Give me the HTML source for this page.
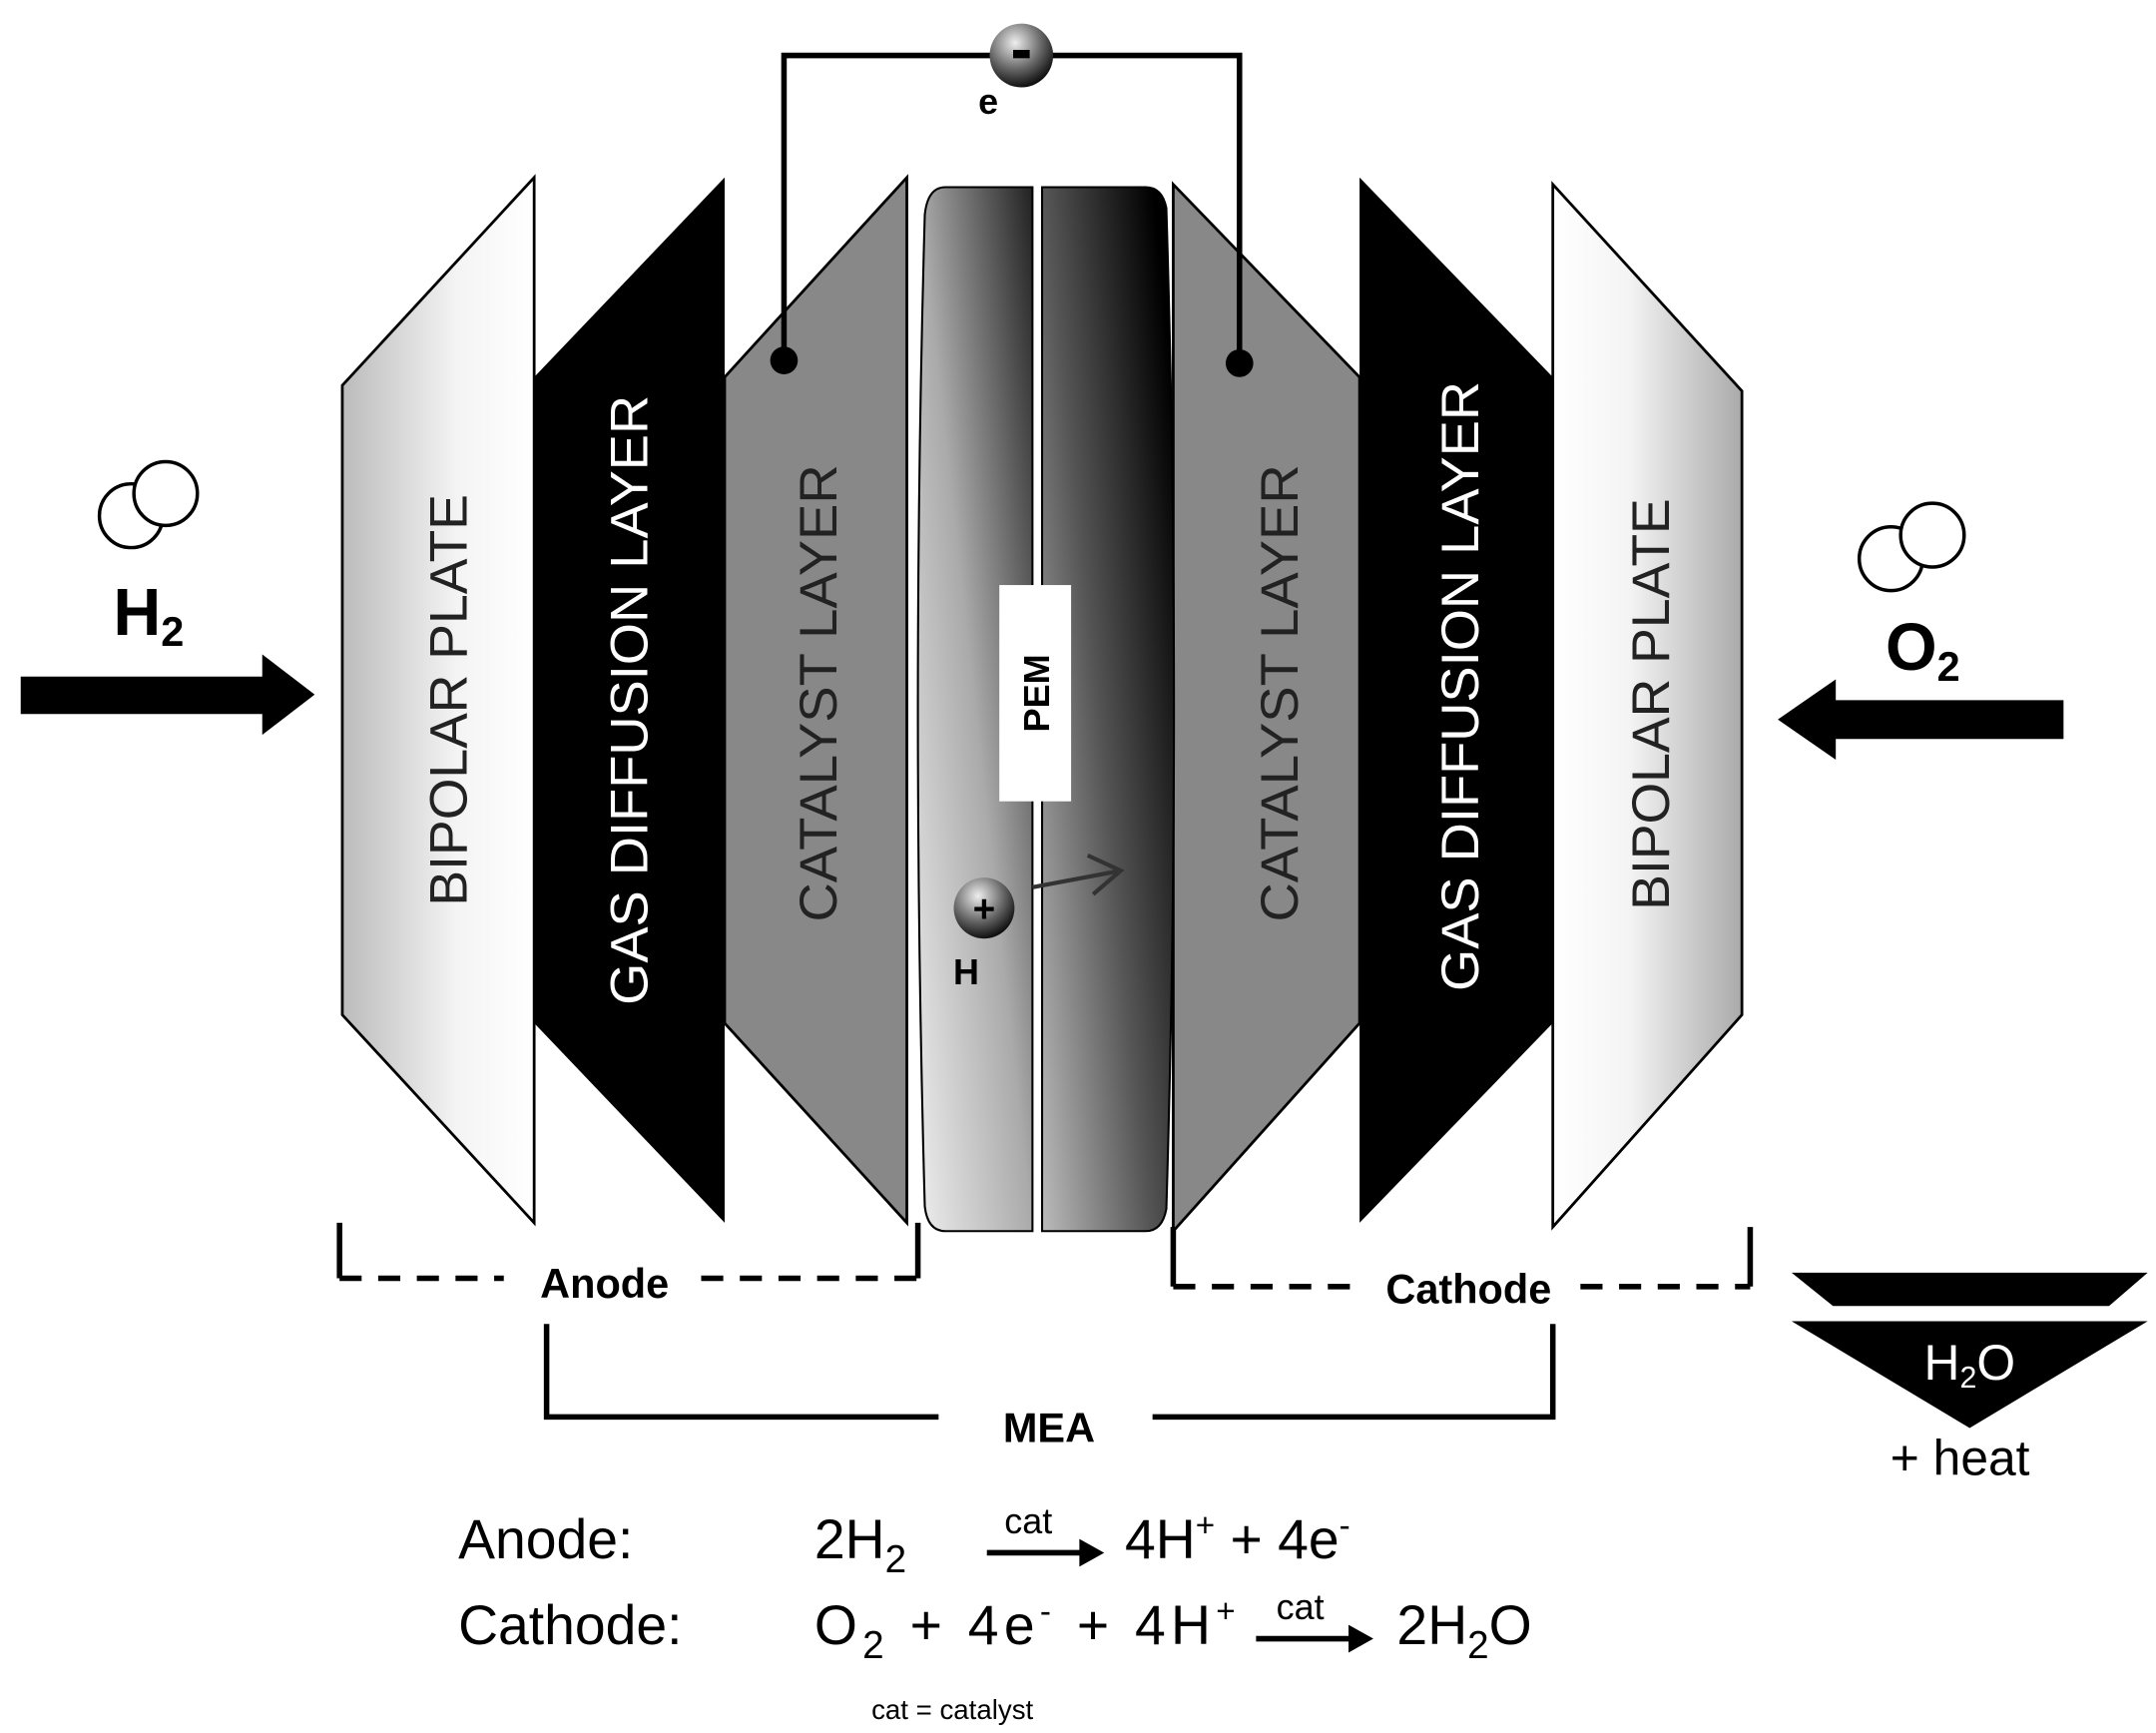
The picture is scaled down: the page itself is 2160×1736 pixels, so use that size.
<!DOCTYPE html>
<html><head><meta charset="utf-8"><style>
html,body{margin:0;padding:0;background:#fff;}
svg{display:block;}
text{font-family:"Liberation Sans Narrow","Liberation Sans",sans-serif;}
</style></head><body>
<svg width="2160" height="1736" viewBox="0 0 1562 1250" preserveAspectRatio="none" xmlns="http://www.w3.org/2000/svg">
<defs>
<linearGradient id="bp" x1="0" x2="1" y1="0" y2="0"><stop offset="0" stop-color="#bbb"/><stop offset="0.6" stop-color="#f4f4f4"/><stop offset="1" stop-color="#fff"/></linearGradient>
<linearGradient id="bp2" x1="0" x2="1" y1="0" y2="0"><stop offset="0" stop-color="#fff"/><stop offset="0.4" stop-color="#f4f4f4"/><stop offset="1" stop-color="#aaa"/></linearGradient>
<linearGradient id="pl" x1="0" y1="1" x2="1" y2="0"><stop offset="0" stop-color="#eee"/><stop offset="0.5" stop-color="#aaa"/><stop offset="1" stop-color="#222"/></linearGradient>
<linearGradient id="pr" x1="0" y1="1" x2="1" y2="0.2"><stop offset="0" stop-color="#bbb"/><stop offset="0.5" stop-color="#555"/><stop offset="1" stop-color="#000"/></linearGradient>
<radialGradient id="ball" cx="0.4" cy="0.3" r="0.7"><stop offset="0" stop-color="#eee"/><stop offset="0.6" stop-color="#666"/><stop offset="1" stop-color="#111"/></radialGradient>
</defs>
<polygon points="248,278 387,128 387,882 248,732" fill="url(#bp)" stroke="#000" stroke-width="2"/>
<polygon points="387,272 525,128 525,882 387,738" fill="#000"/>
<polygon points="525,272 657,128 657,882 525,738" fill="#888" stroke="#000" stroke-width="2"/>
<polygon points="850,133 985,272 985,738 850,888" fill="#888" stroke="#000" stroke-width="2"/>
<polygon points="985,128 1125,272 1125,738 985,882" fill="#000"/>
<polygon points="1125,133 1262,282 1262,732 1125,885" fill="url(#bp2)" stroke="#000" stroke-width="2"/>
<path d="M685,135 L748,135 L748,888 L685,888 Q672,888 670,870 Q660,510 670,155 Q672,135 685,135Z" fill="url(#pl)" stroke="#000" stroke-width="1.5"/>
<path d="M755,135 L830,135 Q842,135 845,150 Q856,510 845,872 Q842,888 830,888 L755,888Z" fill="url(#pr)" stroke="#000" stroke-width="1.5"/>
<rect x="724" y="422" width="52" height="156" fill="#fff"/>
<text x="0" y="0" transform="translate(760,500) rotate(-90)" font-size="26" font-weight="bold" text-anchor="middle">PEM</text>
<circle cx="713" cy="655" r="22" fill="url(#ball)"/>
<text x="713" y="665" font-size="28" font-weight="bold" text-anchor="middle" fill="#000">+</text>
<text x="700" y="710" font-size="26" font-weight="bold" text-anchor="middle">H</text>
<line x1="748" y1="640" x2="812" y2="628" stroke="#333" stroke-width="3"/>
<polyline points="788,617 812,628 792,645" fill="none" stroke="#333" stroke-width="3"/>
<g font-size="38">
<text transform="translate(338,505) rotate(-90)" text-anchor="middle" fill="#222" textLength="297" lengthAdjust="spacingAndGlyphs">BIPOLAR PLATE</text>
<text transform="translate(469,505) rotate(-90)" text-anchor="middle" fill="#fff" textLength="440" lengthAdjust="spacingAndGlyphs">GAS DIFFUSION LAYER</text>
<text transform="translate(606,500) rotate(-90)" text-anchor="middle" fill="#222" textLength="330" lengthAdjust="spacingAndGlyphs">CATALYST LAYER</text>
<text transform="translate(940,500) rotate(-90)" text-anchor="middle" fill="#222" textLength="330" lengthAdjust="spacingAndGlyphs">CATALYST LAYER</text>
<text transform="translate(1071,495) rotate(-90)" text-anchor="middle" fill="#fff" textLength="440" lengthAdjust="spacingAndGlyphs">GAS DIFFUSION LAYER</text>
<text transform="translate(1209,508) rotate(-90)" text-anchor="middle" fill="#222" textLength="297" lengthAdjust="spacingAndGlyphs">BIPOLAR PLATE</text>
</g>
<polyline points="568,258 568,40 898,40 898,262" fill="none" stroke="#000" stroke-width="4"/>
<circle cx="568" cy="260" r="10" fill="#000"/>
<circle cx="898" cy="262" r="10" fill="#000"/>
<circle cx="740" cy="40" r="23" fill="url(#ball)"/>
<rect x="734" y="36" width="12" height="6" fill="#000"/>
<text x="716" y="82" font-size="26" font-weight="bold" text-anchor="middle">e</text>
<circle cx="95" cy="372" r="23" fill="#fff" stroke="#000" stroke-width="2.5"/>
<circle cx="120" cy="356" r="23" fill="#fff" stroke="#000" stroke-width="2.5"/>
<text x="82" y="458" font-size="48" font-weight="bold">H<tspan font-size="30" dy="8">2</tspan></text>
<polygon points="15,488 190,488 190,472 228,501 190,530 190,515 15,515" fill="#000"/>
<circle cx="1370" cy="403" r="23" fill="#fff" stroke="#000" stroke-width="2.5"/>
<circle cx="1400" cy="386" r="23" fill="#fff" stroke="#000" stroke-width="2.5"/>
<text x="1366" y="483" font-size="48" font-weight="bold">O<tspan font-size="30" dy="8">2</tspan></text>
<polygon points="1495,505 1330,505 1330,490 1288,519 1330,548 1330,533 1495,533" fill="#000"/>
<g stroke="#000" stroke-width="4" fill="none">
<line x1="246" y1="882" x2="246" y2="922"/>
<line x1="665" y1="882" x2="665" y2="922"/>
<line x1="246" y1="922" x2="365" y2="922" stroke-dasharray="16,12"/>
<line x1="508" y1="922" x2="665" y2="922" stroke-dasharray="16,12"/>
<line x1="850" y1="885" x2="850" y2="928"/>
<line x1="1268" y1="885" x2="1268" y2="928"/>
<line x1="850" y1="928" x2="985" y2="928" stroke-dasharray="16,12"/>
<line x1="1145" y1="928" x2="1268" y2="928" stroke-dasharray="16,12"/>
<polyline points="396,955 396,1022 680,1022"/>
<polyline points="835,1022 1125,1022 1125,955"/>
</g>
<text x="438" y="936" font-size="30" font-weight="bold" text-anchor="middle">Anode</text>
<text x="1064" y="940" font-size="30" font-weight="bold" text-anchor="middle">Cathode</text>
<text x="760" y="1040" font-size="30" font-weight="bold" text-anchor="middle">MEA</text>
<polygon points="1298,918 1556,918 1528,942 1328,942" fill="#000"/>
<polygon points="1298,953 1556,953 1427,1030" fill="#000"/>
<text x="1427" y="995" font-size="36" fill="#fff" text-anchor="middle">H<tspan font-size="22" dy="6">2</tspan><tspan dy="-6">O</tspan></text>
<text x="1420" y="1064" font-size="36" text-anchor="middle">+ heat</text>
<g font-size="40">
<text x="332" y="1124">Anode:</text>
<text x="590" y="1124">2H<tspan font-size="28" dy="10">2</tspan></text>
<text x="815" y="1124">4H<tspan font-size="24" dy="-16">+</tspan><tspan dy="16"> + 4e</tspan><tspan font-size="24" dy="-16">-</tspan></text>
<text x="332" y="1186">Cathode:</text>
<text x="590" y="1186" textLength="305" lengthAdjust="spacing">O<tspan font-size="28" dy="10">2</tspan><tspan dy="-10"> + 4e</tspan><tspan font-size="24" dy="-16">-</tspan><tspan dy="16"> + 4H</tspan><tspan font-size="24" dy="-16">+</tspan></text>
<text x="1012" y="1186">2H<tspan font-size="28" dy="10">2</tspan><tspan dy="-10">O</tspan></text>
</g>
<text x="745" y="1106" font-size="26" text-anchor="middle">cat</text>
<line x1="715" y1="1120" x2="785" y2="1120" stroke="#000" stroke-width="4"/>
<polygon points="782,1110 800,1120 782,1130" fill="#000"/>
<text x="942" y="1168" font-size="26" text-anchor="middle">cat</text>
<line x1="910" y1="1182" x2="980" y2="1182" stroke="#000" stroke-width="4"/>
<polygon points="977,1172 995,1182 977,1192" fill="#000"/>
<text x="690" y="1240" font-size="20" text-anchor="middle">cat = catalyst</text>
</svg>
</body></html>
